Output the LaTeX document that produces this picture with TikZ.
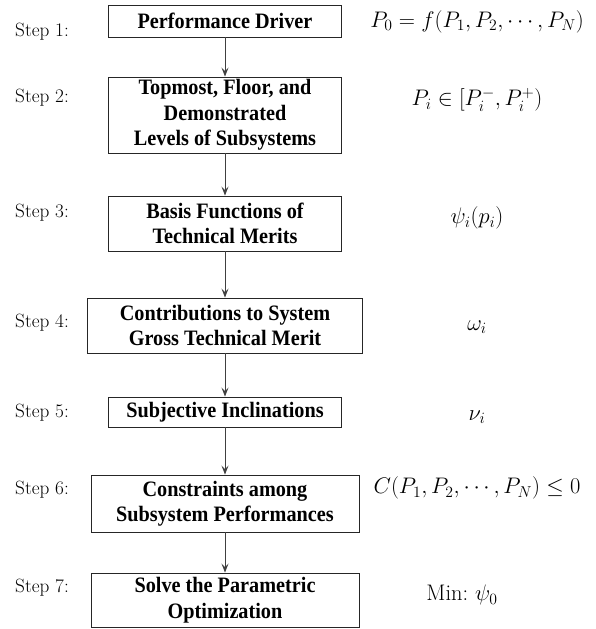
\RequirePackage{fix-cm}
\documentclass[tikz,border=0pt]{standalone}
\usepackage{fontspec}
\newfontfamily\boxFont[FakeStretch=0.92]{Liberation Serif}
\usepackage{tikz}
\usetikzlibrary{arrows.meta}
\newcommand{\stepLabel}[3]{%%
  %% The step number on the left.
  \node[stepStyle] (#1) at (\xstep,#2) {Step #3:};
}
\newcommand{\stepBox}[5]{%%
  \node[boxStyle,minimum width=#3,minimum height=#4] (#1) at (\xbox,#2) {#5};
}
\newcommand{\stepMath}[3]{%%
  %% The formula on the right.
  \node[mathStyle] (#1) at (\xmath,#2) {#3};
}

\begin{document}
\begin{tikzpicture}[%%
  x=1pt,y=-1pt,%%
  boxStyle/.style={draw=black!85,line width=0.9pt,inner sep=0pt,align=center,%%
    font=\boxFont\bfseries\fontsize{22}{25.5}\selectfont},%%
  stepStyle/.style={anchor=west,inner sep=0pt,font=\fontsize{19.2}{22}\selectfont},%%
  mathStyle/.style={inner sep=0pt,font=\fontsize{22.5}{27}\selectfont},%%
  arrowStyle/.style={-{Stealth[length=9pt,width=7pt,inset=3.5pt]},black!75,line width=1pt}
]
%%
%%
\pgfmathsetmacro{\xstep}{15}
\pgfmathsetmacro{\xbox}{225}
\pgfmathsetmacro{\xmath}{477}
\useasboundingbox (0,0) rectangle (595,629);
%%
%%
%% The seven boxes.
\stepBox{driver}{21}{233}{32}{Performance Driver}
\stepBox{levels}{115}{233}{76}{Topmost, Floor, and\\Demonstrated\\Levels of Subsystems}
\stepBox{basis}{223.5}{233}{55}{Basis Functions of\\Technical Merits}
\stepBox{contrib}{325.5}{275}{55}{Contributions to System\\Gross Technical Merit}
\stepBox{subj}{412}{233}{30}{Subjective Inclinations}
\stepBox{constr}{503.5}{268}{57}{Constraints among\\Subsystem Performances}
\stepBox{solve}{600}{268}{54}{Solve the Parametric\\Optimization}
%%
%% Arrows between the boxes.
\draw[arrowStyle] (driver) -- (levels);
\draw[arrowStyle] (levels) -- (basis);
\draw[arrowStyle] (basis) -- (contrib);
\draw[arrowStyle] (contrib) -- (subj);
\draw[arrowStyle] (subj) -- (constr);
\draw[arrowStyle] (constr) -- (solve);
%%
%% Step labels.
\stepLabel{stepA}{32}{1}
\stepLabel{stepB}{98}{2}
\stepLabel{stepC}{213}{3}
\stepLabel{stepD}{323}{4}
\stepLabel{stepE}{413}{5}
\stepLabel{stepF}{490}{6}
\stepLabel{stepG}{588}{7}
%%
%% Formulas.
\stepMath{mathA}{22}{$P_0=f(P_1,P_2,\cdots,P_N)$}
\stepMath{mathB}{100}{$P_i\in[P_i^-,P_i^+)$}
\stepMath{mathC}{218}{$\psi_i(p_i)$}
\stepMath{mathD}{327}{$\omega_i$}
\stepMath{mathE}{417}{$\nu_i$}
\stepMath{mathF}{488}{$C(P_1,P_2,\cdots,P_N)\leq0$}
\node[mathStyle] (mathG) at (462,595) {Min:\ $\psi_0$};
\end{tikzpicture}
\end{document}
